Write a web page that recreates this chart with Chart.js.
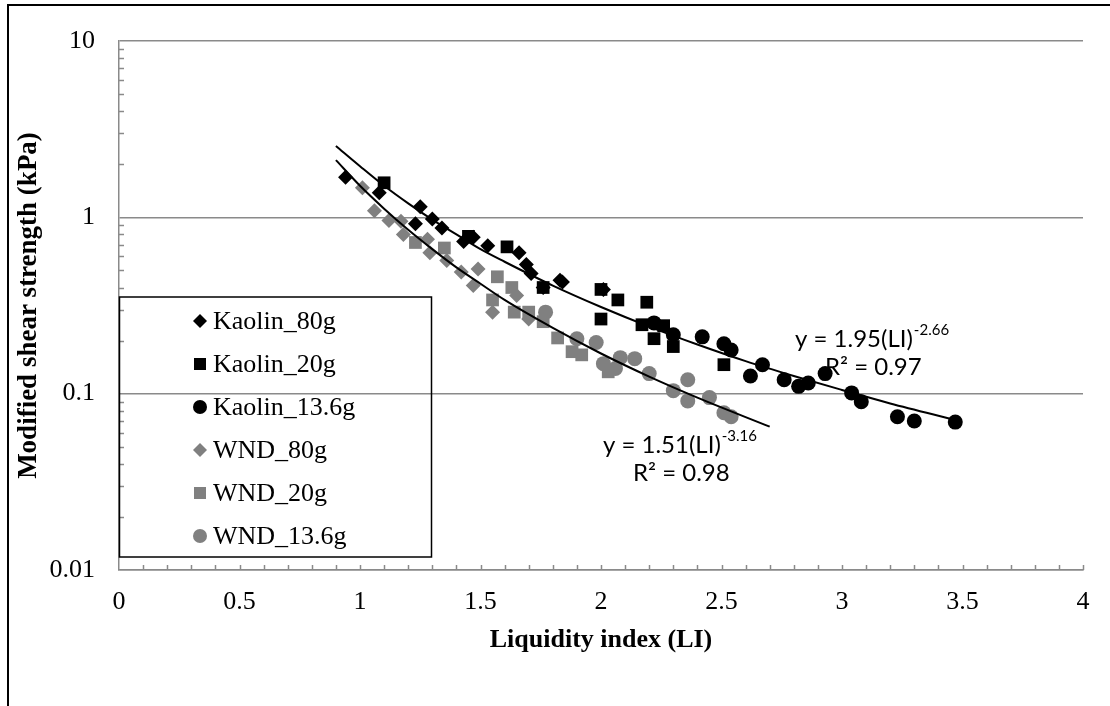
<!DOCTYPE html>
<html>
<head>
<meta charset="utf-8">
<script src="https://cdn.jsdelivr.net/npm/chart.js@4/dist/chart.umd.min.js"></script>
<style>
    html, body { margin: 0; padding: 0; background: #fff; }
    #wrap { position: relative; width: 1110px; height: 706px; overflow: hidden; }
    #frame { position: absolute; left: 7px; top: 4px; width: 1300px; height: 900px; border: 2px solid #000; }
    #chart { position: absolute; left: 0; top: 0; }
</style>
</head>
<body>
<div id="wrap">
    <div id="frame"></div>
    <canvas id="chart" width="1110" height="706"></canvas>
</div>
<script>
/* Modified shear strength vs liquidity index (log y) */
const kaolin80X = [0.94, 1.08, 1.25, 1.23, 1.30, 1.34, 1.43, 1.47, 1.53, 1.66, 1.69, 1.71, 1.76, 1.83, 1.84, 2.01];
const kaolin80Y = [1.69, 1.38, 1.15, 0.92, 0.98, 0.87, 0.73, 0.77, 0.69, 0.63, 0.54, 0.48, 0.40, 0.44, 0.43, 0.39];

const kaolin20X = [1.10, 1.45, 1.61, 1.76, 2.00, 2.07, 2.19, 2.00, 2.17, 2.26, 2.22, 2.30, 2.51];
const kaolin20Y = [1.57, 0.78, 0.68, 0.40, 0.39, 0.34, 0.33, 0.265, 0.246, 0.243, 0.205, 0.185, 0.146];

const kaolin136X = [2.22, 2.30, 2.42, 2.51, 2.54, 2.62, 2.67, 2.76, 2.82, 2.86, 2.93, 3.04, 3.08, 3.23, 3.30, 3.47];
const kaolin136Y = [0.252, 0.216, 0.21, 0.192, 0.177, 0.126, 0.146, 0.12, 0.11, 0.115, 0.13, 0.101, 0.090, 0.074, 0.070, 0.069];

const wnd80X = [1.01, 1.06, 1.12, 1.17, 1.18, 1.28, 1.29, 1.36, 1.42, 1.47, 1.49, 1.55, 1.65, 1.70];
const wnd80Y = [1.47, 1.09, 0.96, 0.95, 0.80, 0.75, 0.63, 0.57, 0.49, 0.41, 0.51, 0.29, 0.36, 0.265];

const wnd20X = [1.23, 1.35, 1.57, 1.55, 1.63, 1.64, 1.70, 1.76, 1.82, 1.88, 1.92, 2.03];
const wnd20Y = [0.72, 0.67, 0.46, 0.34, 0.40, 0.29, 0.29, 0.256, 0.207, 0.173, 0.166, 0.133];

const wnd136X = [1.77, 1.90, 1.98, 2.01, 2.06, 2.08, 2.14, 2.20, 2.30, 2.36, 2.36, 2.45, 2.51, 2.54];
const wnd136Y = [0.29, 0.205, 0.195, 0.148, 0.139, 0.16, 0.158, 0.13, 0.104, 0.12, 0.091, 0.095, 0.078, 0.074];

// power trendlines
const kaolinFitX = [0.9, 1.0, 1.1, 1.2, 1.3, 1.4, 1.5, 1.6, 1.8, 2.0, 2.2, 2.4, 2.6, 2.8, 3.0, 3.2, 3.47];
const kaolinFitY = [2.54, 1.95, 1.51, 1.20, 0.97, 0.80, 0.66, 0.56, 0.41, 0.31, 0.24, 0.19, 0.153, 0.126, 0.105, 0.088, 0.071];
const wndFitX = [0.9, 1.0, 1.1, 1.2, 1.3, 1.4, 1.5, 1.6, 1.8, 2.0, 2.2, 2.4, 2.7];
const wndFitY = [2.11, 1.51, 1.12, 0.85, 0.66, 0.52, 0.42, 0.34, 0.236, 0.169, 0.125, 0.095, 0.065];

const xTicks = [0, 0.5, 1, 1.5, 2, 2.5, 3, 3.5, 4];
const yTicks = [0.01, 0.1, 1, 10];

const seriesNames = ['Kaolin_80g', 'Kaolin_20g', 'Kaolin_13.6g', 'WND_80g', 'WND_20g', 'WND_13.6g'];
const fitLabels = [
    { coef: 'y = 1.95(LI)', exp: '-2.66', r2: 'R² = 0.97' },
    { coef: 'y = 1.51(LI)', exp: '-3.16', r2: 'R² = 0.98' },
];

const BLACK = '#000000';
const GREY = '#808080';
const AXIS = '#8a8a8a';
const SERIF = '"Liberation Serif", "Times New Roman", serif';
const SANS = 'Lato, "Open Sans", sans-serif';

const pts = (xs, ys) => xs.map((x, i) => ({ x, y: ys[i] }));

const marker = (label, xs, ys, color, style, r, order) => ({
    label,
    data: pts(xs, ys),
    pointStyle: style,
    pointRadius: r,
    pointHoverRadius: r,
    backgroundColor: color,
    borderColor: color,
    borderWidth: 0,
    showLine: false,
    order,
});

const fitLine = (xs, ys) => ({
    label: 'fit',
    data: pts(xs, ys),
    showLine: true,
    pointRadius: 0,
    borderColor: BLACK,
    borderWidth: 2,
    cubicInterpolationMode: 'monotone',
    fill: false,
    order: 0,
});

const datasets = [
    marker(seriesNames[0], kaolin80X, kaolin80Y, BLACK, 'rectRot', 7.5, 6),
    marker(seriesNames[1], kaolin20X, kaolin20Y, BLACK, 'rect', 9, 5),
    marker(seriesNames[2], kaolin136X, kaolin136Y, BLACK, 'circle', 7.5, 4),
    marker(seriesNames[3], wnd80X, wnd80Y, GREY, 'rectRot', 7.5, 3),
    marker(seriesNames[4], wnd20X, wnd20Y, GREY, 'rect', 9, 2),
    marker(seriesNames[5], wnd136X, wnd136Y, GREY, 'circle', 7.5, 1),
    fitLine(kaolinFitX, kaolinFitY),
    fitLine(wndFitX, wndFitY),
];

// inward minor ticks on both axes
const minorTicks = {
    id: 'minorTicks',
    beforeDatasetsDraw(chart) {
        const { ctx, scales: { x, y }, chartArea: a } = chart;
        ctx.save();
        ctx.strokeStyle = AXIS;
        ctx.lineWidth = 1.5;
        ctx.beginPath();
        for (let i = 1; i <= 40; i++) {
            const px = Math.round(x.getPixelForValue(i / 10)) + 0.5;
            ctx.moveTo(px, a.bottom);
            ctx.lineTo(px, a.bottom - 5);
        }
        for (let d = 0.01; d < 10; d *= 10) {
            for (let k = 2; k <= 9; k++) {
                const py = Math.round(y.getPixelForValue(k * d)) + 0.5;
                ctx.moveTo(a.left, py);
                ctx.lineTo(a.left + 5, py);
            }
        }
        ctx.stroke();
        ctx.restore();
    },
};

function drawMarker(ctx, style, cx, cy, color) {
    ctx.fillStyle = color;
    ctx.beginPath();
    if (style === 'rectRot') {
        ctx.moveTo(cx, cy - 7);
        ctx.lineTo(cx + 7, cy);
        ctx.lineTo(cx, cy + 7);
        ctx.lineTo(cx - 7, cy);
        ctx.closePath();
    } else if (style === 'rect') {
        ctx.rect(cx - 6, cy - 6, 12, 12);
    } else {
        ctx.arc(cx, cy, 7, 0, Math.PI * 2);
    }
    ctx.fill();
}

// boxed legend + trendline equations
const annotations = {
    id: 'annotations',
    afterDraw(chart) {
        const { ctx, scales: { x }, chartArea: a } = chart;
        ctx.save();

        // legend box
        ctx.strokeStyle = BLACK;
        ctx.lineWidth = 1.5;
        ctx.strokeRect(a.left + 0.5, 297, 312, 260);
        ctx.font = `26px ${SERIF}`;
        ctx.textBaseline = 'middle';
        ctx.textAlign = 'left';
        chart.data.datasets.slice(0, 6).forEach((ds, i) => {
            const cy = 321 + i * 43;
            drawMarker(ctx, ds.pointStyle, 200, cy, ds.backgroundColor);
            ctx.fillStyle = BLACK;
            ctx.fillText(ds.label, 213, cy + 1);
        });

        // equations
        const spots = [
            { px: x.getPixelForValue(2.805), py: 339, rx: 825, ry: 367 },
            { px: x.getPixelForValue(2.008), py: 445, rx: 633, ry: 473 },
        ];
        ctx.fillStyle = BLACK;
        fitLabels.forEach((f, i) => {
            const s = spots[i];
            ctx.font = `24px ${SANS}`;
            ctx.fillText(f.coef, s.px, s.py);
            const w = ctx.measureText(f.coef).width;
            ctx.font = `15px ${SANS}`;
            ctx.fillText(f.exp, s.px + w + 1, s.py - 9);
            ctx.font = `24px ${SANS}`;
            ctx.fillText(f.r2, s.rx, s.ry);
        });
        ctx.restore();
    },
};

new Chart(document.getElementById('chart'), {
    type: 'scatter',
    data: { datasets },
    options: {
        responsive: false,
        animation: false,
        layout: { padding: { left: 8, top: 41, right: 27, bottom: 0 } },
        plugins: {
            legend: { display: false },
            tooltip: { enabled: false },
        },
        scales: {
            x: {
                type: 'linear',
                min: 0,
                max: 4,
                afterBuildTicks: (s) => { s.ticks = xTicks.map((v) => ({ value: v })); },
                afterFit: (s) => { s.height = 136; },
                grid: { display: false, drawTicks: false },
                border: { display: true, color: AXIS, width: 1.5 },
                ticks: {
                    color: BLACK,
                    padding: 17,
                    maxRotation: 0,
                    font: { family: SERIF, size: 26 },
                    callback: (v) => String(v),
                },
                title: {
                    display: true,
                    text: 'Liquidity index (LI)',
                    color: BLACK,
                    font: { family: SERIF, size: 26, weight: 'bold' },
                    padding: { top: 0, bottom: 50 },
                },
            },
            y: {
                type: 'logarithmic',
                min: 0.01,
                max: 10,
                afterBuildTicks: (s) => { s.ticks = yTicks.map((v) => ({ value: v })); },
                afterFit: (s) => { s.width = 111; },
                grid: { color: AXIS, lineWidth: 1.5, drawTicks: false },
                border: { display: true, color: AXIS, width: 1.5 },
                ticks: {
                    color: BLACK,
                    padding: 24,
                    font: { family: SERIF, size: 26 },
                    callback: (v) => String(v),
                },
                title: {
                    display: true,
                    text: 'Modified shear strength (kPa)',
                    color: BLACK,
                    font: { family: SERIF, size: 27, weight: 'bold' },
                    padding: { top: 5, bottom: 0 },
                },
            },
        },
    },
    plugins: [minorTicks, annotations],
});
</script>
</body>
</html>
